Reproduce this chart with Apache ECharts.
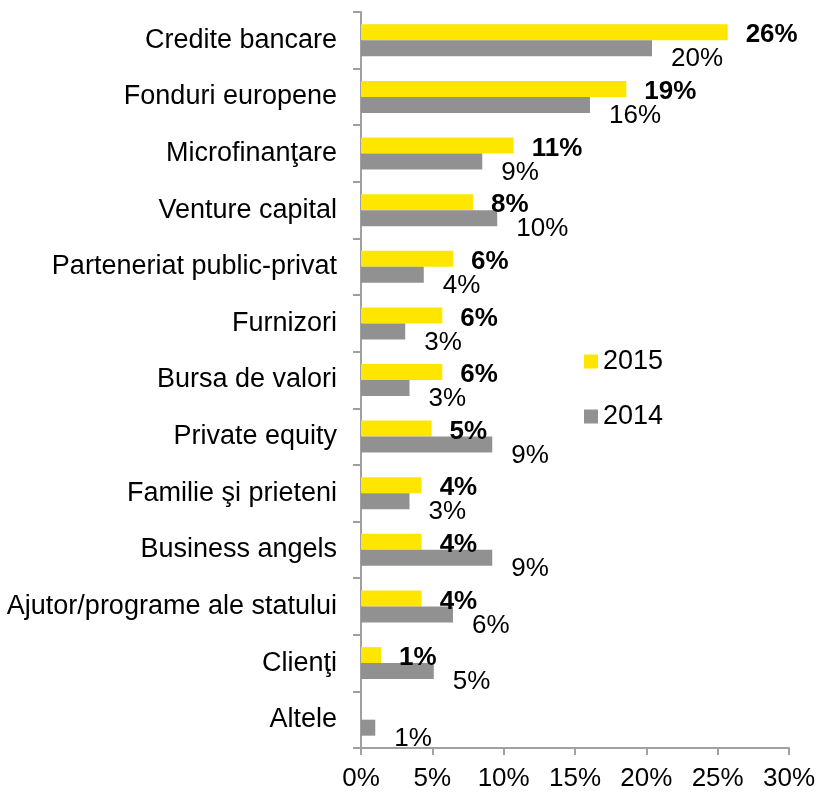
<!DOCTYPE html>
<html>
<head>
    <meta charset="utf-8">
    <title>Surse de finantare</title>
    <script src="https://cdn.jsdelivr.net/npm/echarts@6/dist/echarts.min.js"></script>
    <style>
        html, body { margin: 0; padding: 0; background: #fff; }
    </style>
</head>
<body>
    <div id="container" style="width: 819px;height:796px;"></div>
    <script type="text/javascript">
        // categorii (de sus in jos)
        var categories = ['Credite bancare', 'Fonduri europene', 'Microfinanţare', 'Venture capital',
            'Parteneriat public-privat', 'Furnizori', 'Bursa de valori', 'Private equity',
            'Familie şi prieteni', 'Business angels', 'Ajutor/programe ale statului', 'Clienţi', 'Altele'];
        // lungimea barelor (%)
        var values2015 = [25.7, 18.6, 10.7, 7.85, 6.45, 5.7, 5.7, 4.95, 4.25, 4.25, 4.25, 1.4, 0];
        var values2014 = [20.4, 16.05, 8.5, 9.55, 4.4, 3.1, 3.4, 9.2, 3.4, 9.2, 6.45, 5.1, 1.0];
        // etichetele afisate
        var labels2015 = ['26%', '19%', '11%', '8%', '6%', '6%', '6%', '5%', '4%', '4%', '4%', '1%', ''];
        var labels2014 = ['20%', '16%', '9%', '10%', '4%', '3%', '3%', '9%', '3%', '9%', '6%', '5%', '1%'];
        var xTicks = [0, 5, 10, 15, 20, 25, 30];

        var font = '"Liberation Sans", Arial, sans-serif';
        var fs = 26;
        var myChart = echarts.init(document.getElementById('container'));

        var option = {
            animation: false,
            textStyle: { fontFamily: font },
            legend: {
                data: ['2015', '2014'],
                orient: 'vertical',
                left: 584,
                top: 348,
                padding: 0,
                itemWidth: 14,
                itemHeight: 14,
                itemGap: 28,
                icon: 'rect',
                textStyle: { fontSize: 27, color: '#000', fontFamily: font, padding: [8, 0, 0, 0] }
            },
            grid: {
                left: 361,
                right: 30,
                top: 12,
                bottom: 48
            },
            xAxis: {
                type: 'value',
                min: xTicks[0],
                max: xTicks[xTicks.length - 1],
                interval: 5,
                splitLine: { show: false },
                axisLine: { show: true, lineStyle: { color: '#a0a0a0', width: 2 } },
                axisTick: { show: true, length: 7, lineStyle: { color: '#a0a0a0', width: 2 } },
                axisLabel: {
                    formatter: '{value}%',
                    fontSize: fs,
                    color: '#000',
                    margin: 18,
                    fontFamily: font
                }
            },
            yAxis: {
                type: 'category',
                data: categories,
                inverse: true,
                axisLine: { show: true, lineStyle: { color: '#a0a0a0', width: 2 } },
                axisTick: { show: true, length: 8, lineStyle: { color: '#a0a0a0', width: 2 } },
                axisLabel: {
                    fontSize: 27,
                    color: '#000',
                    margin: 24,
                    fontFamily: font
                }
            },
            series: [
                {
                    name: '2015',
                    type: 'bar',
                    data: values2015,
                    barWidth: 16,
                    barGap: '0%',
                    itemStyle: { color: '#FFE600' },
                    label: {
                        show: true,
                        position: 'right',
                        distance: 18,
                        offset: [0, 3],
                        fontSize: fs,
                        fontWeight: 'bold',
                        color: '#000',
                        fontFamily: font,
                        formatter: function (p) { return labels2015[p.dataIndex]; }
                    }
                },
                {
                    name: '2014',
                    type: 'bar',
                    data: values2014,
                    barWidth: 16,
                    barGap: '0%',
                    itemStyle: { color: '#919191' },
                    label: {
                        show: true,
                        position: 'right',
                        distance: 19,
                        offset: [0, 11],
                        fontSize: fs,
                        color: '#000',
                        fontFamily: font,
                        formatter: function (p) { return labels2014[p.dataIndex]; }
                    }
                }
            ]
        };

        myChart.setOption(option);
    </script>
</body>
</html>
